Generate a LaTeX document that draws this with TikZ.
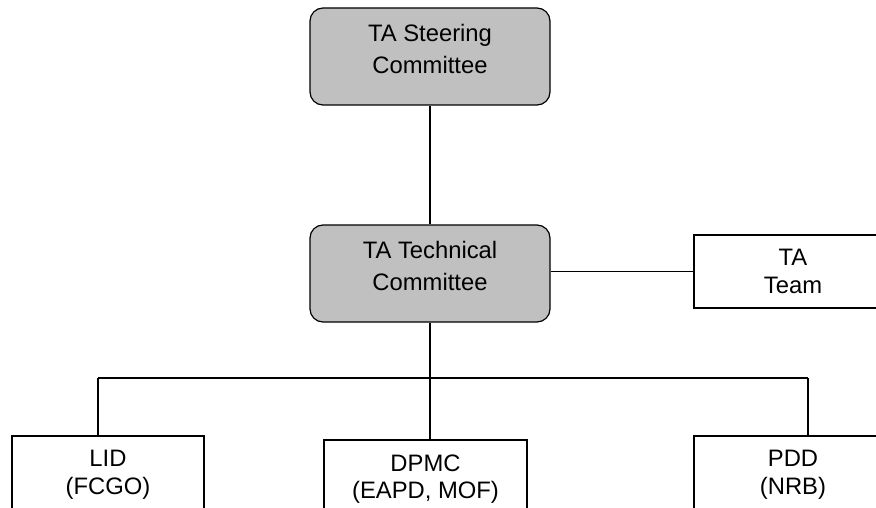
\documentclass[tikz,border=0pt]{standalone}
\usepackage{fontspec}
\setmainfont{Liberation Sans}
\usetikzlibrary{positioning}
\tikzset{every node/.append style={align=center}}
\definecolor{committeecolor}{RGB}{192, 192, 192}

\begin{document}
\begin{tikzpicture}[
    x=1pt, y=-1pt,
    committee/.style={draw, line width=1.2pt, fill=committeecolor, rounded corners=13pt, minimum width=240pt, minimum height=97pt, inner sep=0pt, text depth=15pt, font=\fontsize{23.8}{32}\selectfont},
    unit/.style={draw, line width=1.2pt, fill=white, minimum height=73pt, inner sep=0pt, text depth=0pt, font=\fontsize{23.8}{27.5}\selectfont},
    link/.style={line width=1.2pt},
]
    \clip (0, 0) rectangle (876, 508);
    \fill[white] (0, 0) rectangle (876, 508);

    % Committees
    \node[committee] (steering) at (430, 56.5) {TA Steering\\Committee};
    \node[committee] (technical) at (430, 273.5) {TA Technical\\Committee};

    % Units
    \node[unit, minimum width=198pt] (team) at (793, 271.5) {TA\\Team};
    \node[unit, minimum width=192pt] (lid) at (108, 472.5) {LID\\(FCGO)};
    \node[unit, minimum width=203pt] (dpmc) at (425.5, 476.5) {DPMC\\(EAPD, MOF)};
    \node[unit, minimum width=198pt] (pdd) at (793, 472.5) {PDD\\(NRB)};

    % Bus line
    \coordinate (busleft) at (98, 378);
    \coordinate (busright) at (808, 378);

    % Connections
    \draw[link] (steering) -- (technical);
    \draw[link] (technical.east |- team.west) -- (team.west);
    \draw[link] (technical.south) -- (technical.south |- dpmc.north);
    \draw[link] (busleft) -- (busright);
    \draw[link] (busleft) -- (busleft |- lid.north);
    \draw[link] (busright) -- (busright |- pdd.north);

\end{tikzpicture}
\end{document}
